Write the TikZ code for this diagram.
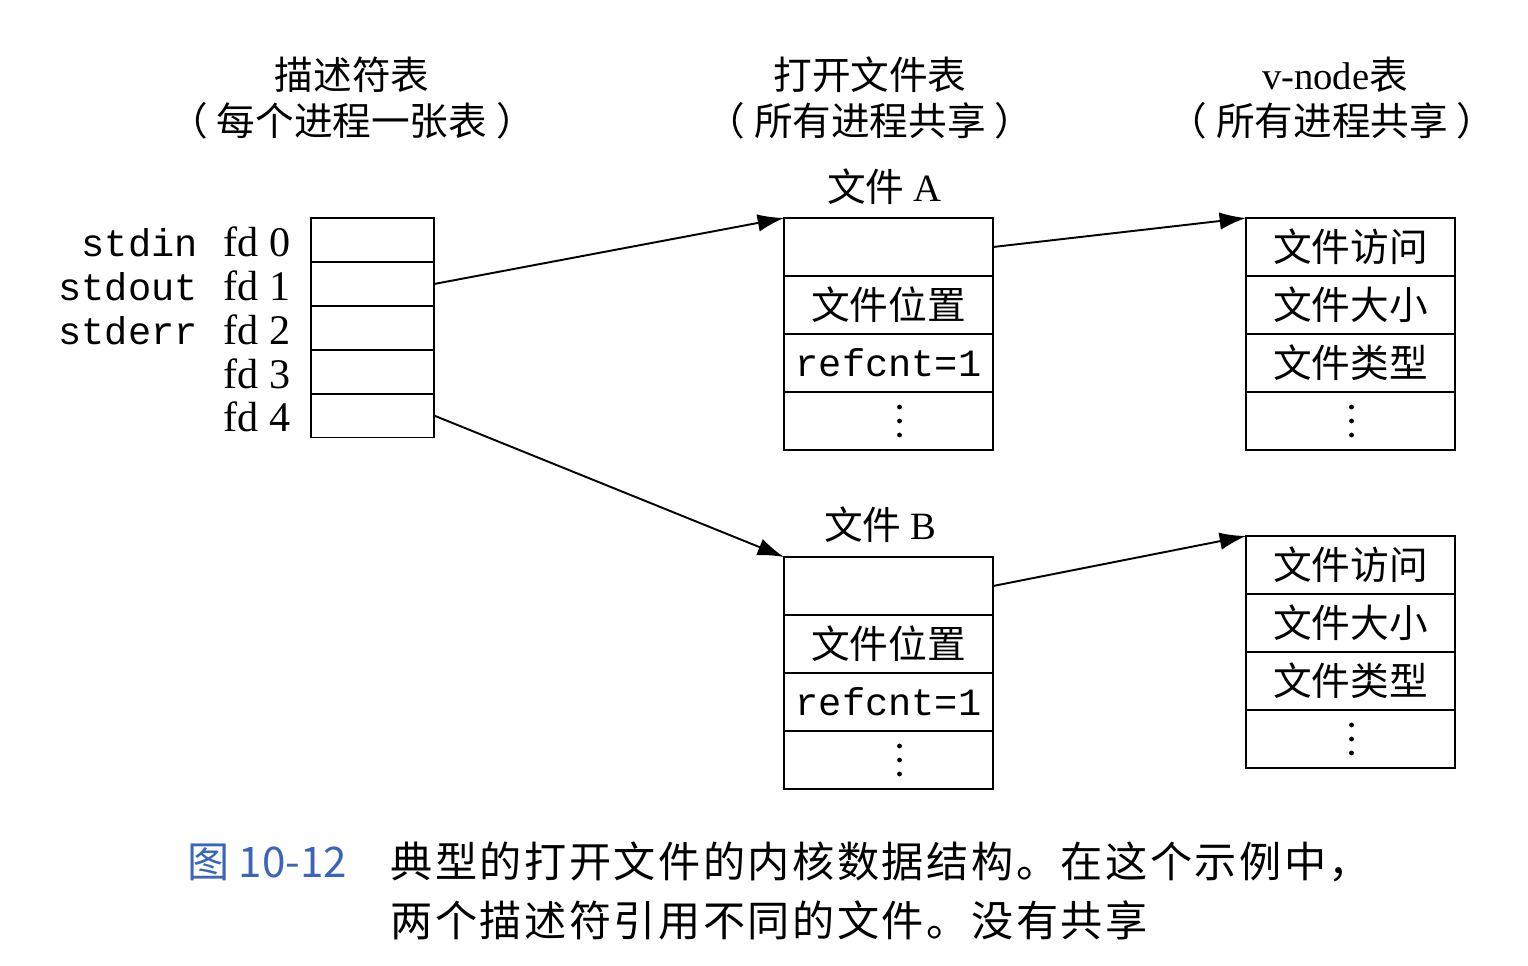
\documentclass[tikz,border=0pt]{standalone}
\usepackage{fontspec}
\setmainfont{Liberation Serif}
\setmonofont{Liberation Mono}
\newfontfamily\cjk{Noto Sans CJK SC}
\newfontfamily\cjkcap[LetterSpace=6]{Noto Sans CJK SC}
\usetikzlibrary{arrows.meta,calc}
\definecolor{capblue}{RGB}{60,100,185}
\tikzset{
  cell/.style={draw, line width=1pt, inner sep=0pt, outer sep=0pt},
  dcell/.style={cell, minimum width=2.46cm, minimum height=0.876cm},
  fcell/.style={cell, minimum width=4.18cm, minimum height=1.16cm, font=\fontsize{22}{24}\selectfont\cjk},
  mono/.style={font=\fontsize{22}{24}\selectfont\ttfamily},
  fdlab/.style={font=\fontsize{24}{26}\selectfont, anchor=base east, inner sep=0pt},
  stdlab/.style={mono, anchor=base east, inner sep=0pt},
  title/.style={font=\fontsize{22}{24}\selectfont\cjk, inner sep=0pt},
  caption/.style={font=\fontsize{24}{26}\selectfont\cjkcap, anchor=west, inner sep=0pt},
  link/.style={line width=1.1pt, -{Latex[length=15pt,width=10pt]}},
  dot/.style={fill=black}
}
\newcommand{\celldots}[2]{%
  \fill[dot] ($(#1.center)+(#2,-14)$) circle (2.4);
  \fill[dot] ($(#1.center)+(#2,0)$) circle (2.4);
  \fill[dot] ($(#1.center)+(#2,14)$) circle (2.4);
}
\begin{document}
\begin{tikzpicture}[x=0.02cm, y=-0.02cm]
\useasboundingbox (0,0) rectangle (1528,965);
\fill[white] (0,0) rectangle (1528,965);

% titles
\node[title] (t1) at (352,75) {描述符表};
\node[title] (t1b) at (352,121) {（\hspace{5pt}每个进程一张表\hspace{5pt}）};
\node[title] (t2) at (870,75) {打开文件表};
\node[title] (t2b) at (870,121) {（\hspace{5pt}所有进程共享\hspace{5pt}）};
\node[title] (t3) at (1335,75) {{\rmfamily v-node}表};
\node[title] (t3b) at (1332,121) {（\hspace{5pt}所有进程共享\hspace{5pt}）};

% descriptor table
\foreach \i/\y in {0/240,1/284,2/328,3/372,4/415.5} {
  \node[dcell] (d\i) at (372.5,\y) {};
  \node[fdlab] (fd\i) at (291,\y+16) {fd \i};
}
\node[stdlab] (sin) at (198,256) {stdin};
\node[stdlab] (sout) at (198,300) {stdout};
\node[stdlab] (serr) at (198,344) {stderr};

% file A
\node[title] (fa) at (884,187) {文件 {\rmfamily A}};
\node[fcell] (a0) at (888.5,247) {};
\node[fcell] (a1) at (888.5,305) {文件位置};
\node[fcell, mono] (a2) at (888.5,363) {refcnt=1};
\node[fcell] (a3) at (888.5,421) {};

% file B
\node[title] (fb) at (880,525) {文件 {\rmfamily B}};
\node[fcell] (b0) at (888.5,586) {};
\node[fcell] (b1) at (888.5,644) {文件位置};
\node[fcell, mono] (b2) at (888.5,702) {refcnt=1};
\node[fcell] (b3) at (888.5,760) {};

% v-node A
\node[fcell] (va0) at (1350.5,247) {文件访问};
\node[fcell] (va1) at (1350.5,305) {文件大小};
\node[fcell] (va2) at (1350.5,363) {文件类型};
\node[fcell] (va3) at (1350.5,421) {};

% v-node B
\node[fcell] (vb0) at (1350.5,565) {文件访问};
\node[fcell] (vb1) at (1350.5,623) {文件大小};
\node[fcell] (vb2) at (1350.5,681) {文件类型};
\node[fcell] (vb3) at (1350.5,739) {};

\celldots{a3}{11}
\celldots{b3}{11}
\celldots{va3}{1}
\celldots{vb3}{1}

% connectors
\draw[link] (d1.east) -- (a0.north west);
\draw[link] (d4.east) -- (b0.north west);
\draw[link] (a0.east) -- (va0.north west);
\draw[link] (b0.east) -- (vb0.north west);

% caption
\node[caption, text=capblue, font=\fontsize{24}{26}\selectfont\cjk] (cap0) at (187,862) {图 10-12};
\node[caption] (cap1) at (390,862) {典型的打开文件的内核数据结构。在这个示例中，};
\node[caption] (cap2) at (390,920) {两个描述符引用不同的文件。没有共享};
\end{tikzpicture}
\end{document}
